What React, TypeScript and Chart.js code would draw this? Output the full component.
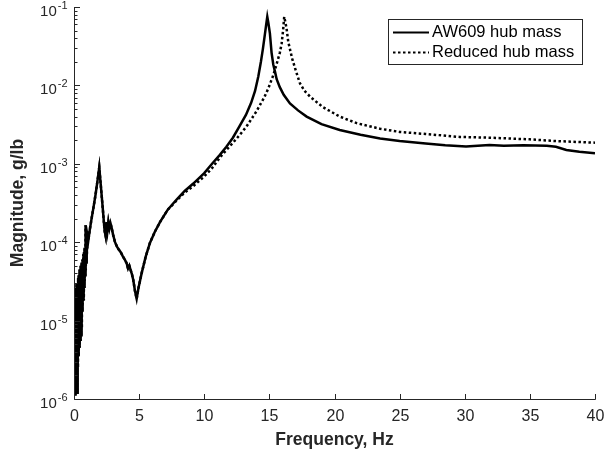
import React, { useEffect, useRef } from 'react';
import { Chart, registerables } from 'chart.js';

Chart.register(...registerables);

// Shared low-frequency part (both configurations overlap here)
const freqLow = [0.02, 0.035, 0.05, 0.065, 0.08, 0.095, 0.11, 0.125, 0.14, 0.155, 0.17, 0.185, 0.2, 0.215, 0.23, 0.245, 0.26, 0.275, 0.29, 0.305, 0.32, 0.335, 0.35, 0.365, 0.38, 0.395, 0.41, 0.425, 0.44, 0.455, 0.47, 0.485, 0.5, 0.515, 0.53, 0.545, 0.56, 0.575, 0.59, 0.605, 0.62, 0.635, 0.65, 0.665, 0.68, 0.695, 0.71, 0.725, 0.74, 0.755, 0.77, 0.785, 0.8, 0.815, 0.83, 0.845, 0.86, 0.875, 0.89, 0.905, 0.92, 0.94, 0.96, 0.99, 1.04, 1.1, 1.2, 1.35, 1.5, 1.65, 1.8, 1.94, 2.05, 2.2, 2.35, 2.43, 2.5, 2.57, 2.64, 2.72, 2.8, 2.9, 3.0, 3.15, 3.3, 3.45, 3.6, 3.75, 3.9, 4.04, 4.15, 4.25, 4.35, 4.45, 4.55, 4.68, 4.81, 4.95, 5.19, 5.5, 5.83, 6.2, 6.6, 7.2];
const magLow = [4e-6, 1.1e-6, 1.2e-5, 1.5e-6, 2e-5, 1.1e-6, 8e-6, 2.5e-6, 2.6e-5, 1.3e-6, 1.5e-5, 3e-6, 3e-5, 2e-6, 1.8e-5, 1.2e-6, 2.8e-5, 4e-6, 2.2e-5, 2.5e-6, 3.5e-5, 5e-6, 2.4e-5, 3.5e-6, 3.8e-5, 6e-6, 3e-5, 4.5e-6, 4.5e-5, 7e-6, 3.2e-5, 5.5e-6, 4.2e-5, 9e-6, 5e-5, 6.5e-6, 3.8e-5, 1e-5, 5.5e-5, 8e-6, 4.8e-5, 1.3e-5, 6e-5, 1.6e-5, 5.2e-5, 2e-5, 7e-5, 2.4e-5, 6e-5, 1.8e-5, 7.5e-5, 2.6e-5, 6.5e-5, 3.2e-5, 8.5e-5, 3.8e-5, 7e-5, 4.5e-5, 1.65e-4, 4.4e-5, 9e-5, 5.5e-5, 1.0e-4, 7e-5, 1.2e-4, 1.05e-4, 1.4e-4, 2e-4, 2.8e-4, 4e-4, 6e-4, 9e-4, 5.5e-4, 2.8e-4, 1.4e-4, 1.2e-4, 1.8e-4, 1.4e-4, 1.8e-4, 1.5e-4, 1.75e-4, 1.5e-4, 1.25e-4, 1e-4, 8.8e-5, 8e-5, 7.4e-5, 6.6e-5, 6e-5, 5.4e-5, 4.6e-5, 5e-5, 4.4e-5, 3.9e-5, 3.3e-5, 2.4e-5, 1.9e-5, 2.6e-5, 4e-5, 6.5e-5, 9.8e-5, 1.35e-4, 1.8e-4, 2.6e-4];

// AW609 hub mass (solid), above 7.2 Hz
const freqAW609 = [7.88, 8.5, 9.16, 10, 10.6, 11.2, 11.7, 12.2, 12.7, 13.2, 13.6, 13.9, 14.15, 14.35, 14.5, 14.65, 14.77, 14.84, 14.92, 15.04, 15.17, 15.3, 15.43, 15.56, 15.8, 16.1, 16.58, 17.2, 17.86, 19, 20.4, 22, 23.5, 25, 27, 28.5, 30.1, 31, 31.9, 33, 34.5, 36.3, 37, 37.8, 38.8, 40];
const magAW609 = [3.5e-4, 4.5e-4, 5.6e-4, 7.6e-4, 1.0e-3, 1.3e-3, 1.65e-3, 2.15e-3, 3.0e-3, 4.2e-3, 6e-3, 8.5e-3, 1.3e-2, 2e-2, 2.9e-2, 4.4e-2, 6.2e-2, 7.5e-2, 6.3e-2, 4.6e-2, 2.6e-2, 1.85e-2, 1.5e-2, 1.2e-2, 9.5e-3, 7.6e-3, 5.9e-3, 4.8e-3, 4e-3, 3.2e-3, 2.7e-3, 2.35e-3, 2.1e-3, 1.95e-3, 1.82e-3, 1.72e-3, 1.66e-3, 1.7e-3, 1.74e-3, 1.7e-3, 1.72e-3, 1.7e-3, 1.65e-3, 1.5e-3, 1.42e-3, 1.36e-3];

// Reduced hub mass (dotted), above 7.2 Hz
const freqReduced = [7.88, 8.5, 9.16, 10, 10.6, 11.2, 11.7, 12.2, 12.74, 13.25, 13.7, 14.02, 14.27, 14.6, 14.9, 15.1, 15.3, 15.55, 15.8, 15.94, 16.05, 16.14, 16.22, 16.32, 16.45, 16.6, 16.75, 17.0, 17.34, 17.7, 18.2, 19.1, 20.4, 21.7, 23.5, 25, 27, 29.6, 32, 35, 37, 40];
const magReduced = [3.4e-4, 4.3e-4, 5.2e-4, 6.9e-4, 8.8e-4, 1.2e-3, 1.5e-3, 1.85e-3, 2.35e-3, 3.0e-3, 3.9e-3, 4.7e-3, 5.6e-3, 7e-3, 9e-3, 1.1e-2, 1.35e-2, 1.85e-2, 2.6e-2, 3.4e-2, 5e-2, 7.5e-2, 6.5e-2, 5.3e-2, 3.6e-2, 2.8e-2, 2.2e-2, 1.6e-2, 1.07e-2, 8.5e-3, 7e-3, 5.3e-3, 4e-3, 3.3e-3, 2.8e-3, 2.55e-3, 2.4e-3, 2.2e-3, 2.15e-3, 2.05e-3, 1.95e-3, 1.86e-3];

const xTicks = [0, 5, 10, 15, 20, 25, 30, 35, 40];
const yDecades = [-6, -5, -4, -3, -2, -1];
const seriesLabels = ['AW609 hub mass', 'Reduced hub mass'];
const xTitle = 'Frequency, Hz';
const yTitle = 'Magnitude, g/lb';

const FONT = '"Liberation Sans", Arial, Helvetica, sans-serif';
const AXIS = '#262626';

function toPoints(f: number[], m: number[]) {
  return f.map((x, i) => ({ x, y: m[i] }));
}

const axesPlugin = {
  id: 'matlabAxes',
  afterDraw(chart: any) {
    const ctx = chart.ctx as CanvasRenderingContext2D;
    const xs = chart.scales.x;
    const ys = chart.scales.y;
    const { left, right, top, bottom } = chart.chartArea;
    ctx.save();
    ctx.strokeStyle = AXIS;
    ctx.fillStyle = AXIS;
    ctx.lineWidth = 1;
    const L = Math.round(left) + 0.5;
    const B = Math.round(bottom) + 0.5;
    ctx.beginPath();
    ctx.moveTo(L, Math.round(top));
    ctx.lineTo(L, B);
    ctx.lineTo(Math.round(right) + 0.5, B);
    ctx.stroke();

    ctx.font = `16px ${FONT}`;
    ctx.textAlign = 'center';
    ctx.textBaseline = 'middle';
    xTicks.forEach((t) => {
      const px = Math.round(xs.getPixelForValue(t)) + 0.5;
      ctx.beginPath();
      ctx.moveTo(px, B);
      ctx.lineTo(px, B - 5.5);
      ctx.stroke();
      ctx.fillText(String(t), px, B + 17);
    });

    yDecades.forEach((d) => {
      const py = Math.round(ys.getPixelForValue(Math.pow(10, d))) + 0.5;
      ctx.beginPath();
      ctx.moveTo(L, py);
      ctx.lineTo(L + 5.5, py);
      ctx.stroke();
      if (d < -1) {
        for (let m = 2; m <= 9; m++) {
          const pm = Math.round(ys.getPixelForValue(m * Math.pow(10, d))) + 0.5;
          ctx.beginPath();
          ctx.moveTo(L, pm);
          ctx.lineTo(L + 3, pm);
          ctx.stroke();
        }
      }
      const sup = String(d);
      ctx.font = `11px ${FONT}`;
      const supW = ctx.measureText(sup).width;
      const supX = L - 7 - supW;
      ctx.textAlign = 'left';
      ctx.fillText(sup, supX, py - 2);
      ctx.font = `15px ${FONT}`;
      ctx.textAlign = 'right';
      ctx.fillText('10', supX - 1, py + 4);
    });

    ctx.font = `bold 17.5px ${FONT}`;
    ctx.textAlign = 'center';
    ctx.textBaseline = 'middle';
    ctx.fillText(xTitle, (left + right) / 2, B + 41);
    ctx.save();
    ctx.translate(18, (top + bottom) / 2);
    ctx.rotate(-Math.PI / 2);
    ctx.fillText(yTitle, 0, 0);
    ctx.restore();

    const bx = 388.5, by = 19.5, bw = 194, bh = 45;
    ctx.fillStyle = '#ffffff';
    ctx.fillRect(bx, by, bw, bh);
    ctx.strokeStyle = AXIS;
    ctx.lineWidth = 1;
    ctx.strokeRect(bx, by, bw, bh);
    const rows = [32.5, 52.5];
    chart.data.datasets.forEach((ds: any, i: number) => {
      const y = rows[i];
      ctx.strokeStyle = ds.borderColor;
      ctx.lineWidth = 2.2;
      ctx.setLineDash(ds.borderDash || []);
      ctx.beginPath();
      ctx.moveTo(393, y);
      ctx.lineTo(429, y);
      ctx.stroke();
      ctx.setLineDash([]);
      ctx.fillStyle = '#000000';
      ctx.font = `16.5px ${FONT}`;
      ctx.textAlign = 'left';
      ctx.textBaseline = 'middle';
      ctx.fillText(ds.label, 432, y);
    });
    ctx.restore();
  },
};

export default function App() {
  const ref = useRef<HTMLCanvasElement>(null);
  useEffect(() => {
    if (!ref.current) return;
    const chart = new Chart(ref.current, {
      type: 'line',
      data: {
        datasets: [
          {
            label: seriesLabels[0],
            data: toPoints([...freqLow, ...freqAW609], [...magLow, ...magAW609]),
            borderColor: '#000000',
            borderWidth: 2.5,
            pointRadius: 0,
            tension: 0,
            fill: false,
          },
          {
            label: seriesLabels[1],
            data: toPoints([...freqLow, ...freqReduced], [...magLow, ...magReduced]),
            borderColor: '#000000',
            borderWidth: 2.5,
            borderDash: [2.5, 2.5],
            pointRadius: 0,
            tension: 0,
            fill: false,
          },
        ],
      },
      options: {
        animation: false,
        responsive: false,
        maintainAspectRatio: false,
        devicePixelRatio: 1,
        layout: { padding: { left: 74, right: 20, top: 7, bottom: 52 } },
        plugins: { legend: { display: false }, tooltip: { enabled: false } },
        scales: {
          x: { type: 'linear', min: 0, max: 40, display: false },
          y: { type: 'logarithmic', min: 1e-6, max: 1e-1, display: false },
        },
      },
      plugins: [axesPlugin],
    } as any);
    return () => chart.destroy();
  }, []);
  return (
    <div style={{ position: 'fixed', left: 0, top: 0, width: 615, height: 451, background: '#fff' }}>
      <canvas ref={ref} width={615} height={451} style={{ display: 'block' }} />
    </div>
  );
}
